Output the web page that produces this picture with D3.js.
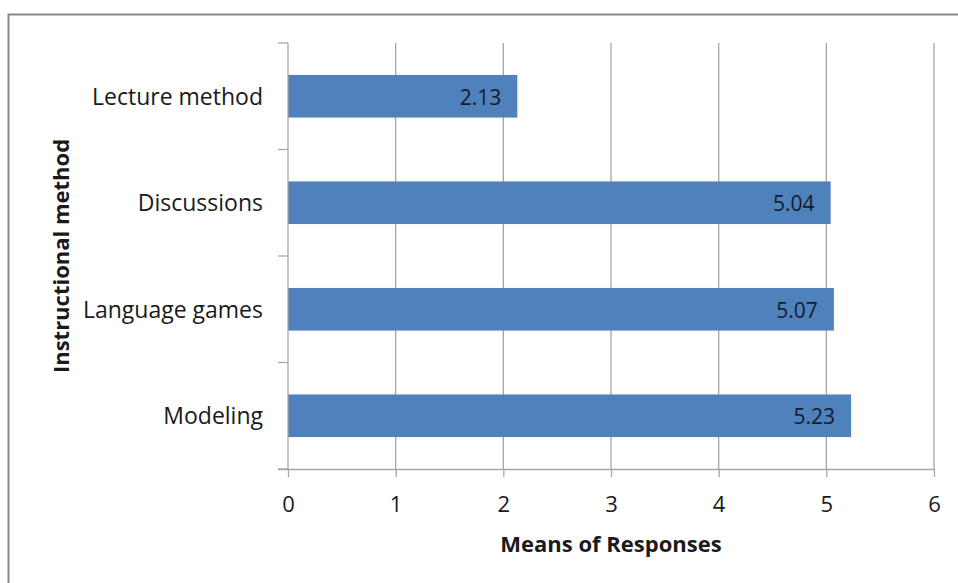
<!DOCTYPE html>
<html lang="en">
  <head>
    <meta charset="UTF-8" />
    <title>Means of Responses by Instructional Method</title>
    <script src="https://d3js.org/d3.v7.min.js"></script>
    <style>
      body { margin: 0; background: #fff; }
      svg text { font-family: "Open Sans", sans-serif; fill: #1a1a1a; }
    </style>
  </head>
  <body>
    <svg width="958" height="583"></svg>
    <script>
      // data
      const categories = ["Lecture method", "Discussions", "Language games", "Modeling"];
      const means = [2.13, 5.04, 5.07, 5.23];
      const xTicks = [0, 1, 2, 3, 4, 5, 6];

      const svg = d3.select("svg");
      const plotTop = 43, plotBottom = 469;
      const gridColor = "#a6a6a6";

      // outer chart frame (runs off the right / bottom edge)
      svg.append("rect")
        .attr("x", 8.5).attr("y", 14.5)
        .attr("width", 970).attr("height", 600)
        .attr("fill", "none").attr("stroke", "#878787").attr("stroke-width", 2);

      const x = d3.scaleLinear().domain([0, 6]).range([288, 934]);
      const y = d3.scaleBand().domain(categories).range([plotTop, plotBottom]).paddingInner(0.6).paddingOuter(0.3);

      // gridlines
      svg.append("g")
        .selectAll("line")
        .data(xTicks.slice(1))
        .join("line")
        .attr("x1", d => x(d)).attr("x2", d => x(d))
        .attr("y1", plotTop).attr("y2", plotBottom)
        .attr("stroke", gridColor).attr("stroke-width", 1.3);

      // bars
      svg.append("g")
        .selectAll("rect")
        .data(categories)
        .join("rect")
        .attr("x", x(0))
        .attr("y", d => y(d))
        .attr("width", (d, i) => x(means[i]) - x(0))
        .attr("height", y.bandwidth())
        .attr("fill", "#4f81bd");

      // value labels, inside end
      svg.append("g")
        .selectAll("text")
        .data(categories)
        .join("text")
        .attr("x", (d, i) => x(means[i]) - 16)
        .attr("y", d => y(d) + y.bandwidth() / 2 + 1)
        .attr("dy", "0.36em")
        .attr("text-anchor", "end")
        .attr("font-size", 21)
        .style("fill", "#141c2b")
        .text((d, i) => means[i].toFixed(2));

      // x axis
      const xAxis = svg.append("g")
        .attr("transform", `translate(0,${plotBottom})`)
        .call(d3.axisBottom(x).tickValues(xTicks).tickFormat(d3.format("d")).tickSize(8).tickPadding(19).tickSizeOuter(0));
      xAxis.select(".domain").attr("d", `M278,0.5H${x(6)}`);
      xAxis.selectAll("line").attr("stroke", gridColor).attr("stroke-width", 1.3);
      xAxis.select(".domain").attr("stroke", gridColor).attr("stroke-width", 1.3);
      xAxis.selectAll("text").attr("font-size", 22).attr("font-family", "Open Sans").attr("fill", "#1a1a1a");

      // y axis
      const bandEdges = d3.range(categories.length + 1).map(i => plotTop + i * (plotBottom - plotTop) / categories.length);
      const yAxisG = svg.append("g");
      yAxisG.append("line")
        .attr("x1", x(0)).attr("x2", x(0))
        .attr("y1", plotTop).attr("y2", plotBottom)
        .attr("stroke", gridColor).attr("stroke-width", 1.3);
      yAxisG.selectAll(".tick")
        .data(bandEdges)
        .join("line")
        .attr("x1", x(0) - 10).attr("x2", x(0))
        .attr("y1", d => d).attr("y2", d => d)
        .attr("stroke", gridColor).attr("stroke-width", 1.3);
      yAxisG.selectAll("text")
        .data(categories)
        .join("text")
        .attr("x", 263)
        .attr("y", d => y(d) + y.bandwidth() / 2)
        .attr("dy", "0.36em")
        .attr("text-anchor", "end")
        .attr("font-size", 23)
        .text(d => d);

      // axis titles
      svg.append("text")
        .attr("x", (x(0) + x(6)) / 2)
        .attr("y", 552)
        .attr("text-anchor", "middle")
        .attr("font-size", 22)
        .attr("font-weight", "bold")
        .text("Means of Responses");

      svg.append("text")
        .attr("transform", `translate(69,${(plotTop + plotBottom) / 2}) rotate(-90)`)
        .attr("text-anchor", "middle")
        .attr("font-size", 22)
        .attr("font-weight", "bold")
        .text("Instructional method");
    </script>
  </body>
</html>
